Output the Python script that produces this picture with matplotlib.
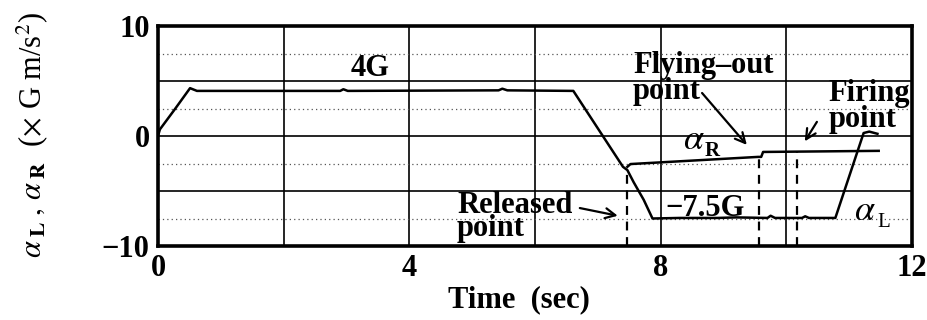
import matplotlib
matplotlib.use("Agg")
import matplotlib.pyplot as plt

plt.rcParams['font.family'] = ['Liberation Serif', 'DejaVu Serif']
plt.rcParams['mathtext.fontset'] = 'stix'

# Lateral acceleration of the left body (alpha_L)
t_L = [0.0, 0.03, 0.27, 0.51, 0.62, 2.9, 2.95, 3.02, 5.42, 5.48, 5.56, 6.61,
       7.40, 7.47, 7.57, 7.73, 7.87, 8.3, 8.9, 9.2, 9.7, 9.75, 9.82, 10.25,
       10.3, 10.36, 10.78, 11.23, 11.32, 11.45]
a_L = [0.0, 0.6, 2.45, 4.35, 4.1, 4.1, 4.25, 4.1, 4.15, 4.3, 4.15, 4.1,
       -2.8, -3.1, -4.2, -5.8, -7.5, -7.45, -7.45, -7.4, -7.45, -7.25, -7.45, -7.45,
       -7.3, -7.45, -7.45, 0.27, 0.4, 0.2]

# Lateral acceleration of the right body (alpha_R)
t_R = [7.47, 7.52, 9.55, 9.6, 9.63, 11.47]
a_R = [-2.8, -2.55, -1.9, -1.9, -1.45, -1.35]

# Event times: released, flying-out, firing
t_release = 7.47
t_flyout = 9.57
t_firing = 10.17

x_ticks = [0, 4, 8, 12]
y_ticks = [10, 0, -10]

FS = 22
fig = plt.figure(figsize=(9.27, 3.2), dpi=100)
ax = fig.add_axes([158/927, 1-246/320, (912-158)/927, (246-26)/320])
ax.set_xlim(0, 12)
ax.set_ylim(-10, 10)

# grid: solid every 2 s / 5 units, dotted half-steps
for x in [2, 4, 6, 8, 10]:
    ax.axvline(x, color='black', lw=1.2, zorder=1)
for y in [5, 0, -5]:
    ax.axhline(y, color='black', lw=1.2, zorder=1)
for y in [7.5, 2.5, -2.5, -7.5]:
    ax.axhline(y, color='#555555', lw=0.9, ls=(0, (1, 2.5)), zorder=1)

ax.plot(t_L, a_L, color='black', lw=1.8, zorder=3)
ax.plot(t_R, a_R, color='black', lw=1.8, zorder=3)

# event markers
ax.plot([t_release, t_release], [-10, a_L[13]], color='black', lw=1.6,
        ls=(0, (4, 3)), zorder=2)
ax.plot([t_flyout, t_flyout], [-10, -1.8], color='black', lw=1.6,
        ls=(0, (4, 3)), zorder=2)
ax.plot([t_firing, t_firing], [-10, -1.4], color='black', lw=1.6,
        ls=(0, (4, 3)), zorder=2)

for s in ax.spines.values():
    s.set_linewidth(2.6)

ax.set_xticks(x_ticks)
ax.set_yticks(y_ticks)
ax.set_xticklabels([str(v) for v in x_ticks])
ax.set_yticklabels(['10', '0', '\u221210'])
ax.tick_params(length=0, labelsize=FS, pad=6)
for lab in ax.get_xticklabels() + ax.get_yticklabels():
    lab.set_fontweight('bold')

tk = dict(fontsize=FS, fontweight='bold', color='black')
ax.text(3.37, 6.1, '4G', ha='center', va='center', **tk)
ax.text(8.07, -7.3, '\u22127.5G', ha='left', va='baseline', **tk)

# two-line labels: y is the baseline of the second line
ax.text(4.76, -9.05, 'Released\npoint', ha='left', va='baseline',
        linespacing=0.72, **tk)
ax.annotate('', xy=(7.36, -7.3), xytext=(6.67, -6.5),
            arrowprops=dict(arrowstyle='->', lw=1.6, color='black',
                            mutation_scale=18))

ax.text(7.56, 3.4, 'Flying\u2013out\npoint', ha='left', va='baseline',
        linespacing=0.85, **tk)
ax.annotate('', xy=(9.4, -1.0), xytext=(8.63, 4.1),
            arrowprops=dict(arrowstyle='->', lw=1.6, color='black',
                            mutation_scale=18))

ax.text(10.67, 0.8, 'Firing\npoint', ha='left', va='baseline',
        linespacing=0.85, **tk)
ax.annotate('', xy=(10.27, -0.7), xytext=(10.51, 1.5),
            arrowprops=dict(arrowstyle='->', lw=1.6, color='black',
                            mutation_scale=18))

ax.text(8.36, -0.4, r'$\alpha$', ha='left', va='center', fontsize=26)
ax.text(8.82, -1.4, 'R', ha='center', va='center', fontsize=15, fontweight='bold')
ax.text(11.07, -6.9, r'$\alpha$', ha='left', va='center', fontsize=26)
ax.text(11.55, -7.9, 'L', ha='center', va='center', fontsize=15)

fig.text(519/927, 1-300/320, 'Time  (sec)', ha='center', va='center', **tk)
fig.text(32/927, 1-135/320,
         r'$\alpha_{\;\mathbf{L}}\;,\,\alpha_{\;\mathbf{R}}$  ($\times$ G m/s$^2$)',
         rotation=90, ha='center', va='center', fontsize=22)

fig.savefig('out.png', dpi=100)
